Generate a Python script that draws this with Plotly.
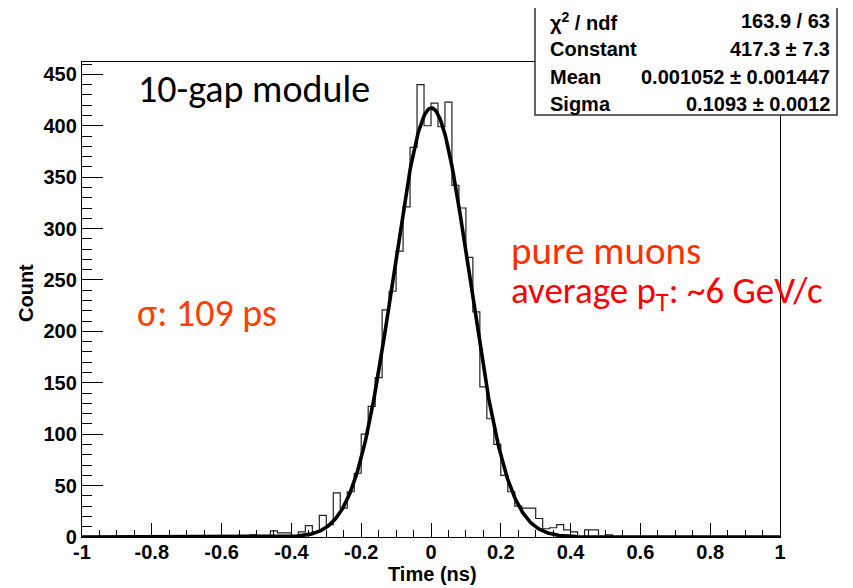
import numpy as np
import plotly.graph_objects as go

# ---------------- data ----------------
bin_low_edges = [-0.52, -0.50, -0.48, -0.46, -0.44, -0.42, -0.40, -0.38, -0.36, -0.34,
                 -0.32, -0.30, -0.28, -0.26, -0.24, -0.22, -0.20, -0.18, -0.16, -0.14,
                 -0.12, -0.10, -0.08, -0.06, -0.04, -0.02, 0.00, 0.02, 0.04, 0.06,
                 0.08, 0.10, 0.12, 0.14, 0.16, 0.18, 0.20, 0.22, 0.24, 0.26,
                 0.28, 0.30, 0.32, 0.34, 0.36, 0.38, 0.40, 0.42, 0.44, 0.46,
                 0.48, 0.50]
bin_counts = [2, 0, 0, 6, 4, 4, 1, 5, 11, 5,
              21, 12, 43, 28, 44, 62, 100, 127, 155, 221,
              239, 278, 321, 379, 440, 400, 422, 399, 423, 342,
              320, 272, 219, 146, 115, 90, 60, 44, 30, 28,
              28, 18, 8, 9, 12, 7, 5, 0, 7, 7,
              0, 2]
bin_width = 0.02

fit_constant = 417.3
fit_mean = 0.001052
fit_sigma = 0.1093

x_range = [-1, 1]
y_range = [0, 462]
x_tick_vals = [-1, -0.8, -0.6, -0.4, -0.2, 0, 0.2, 0.4, 0.6, 0.8, 1]
x_tick_labels = ["-1", "-0.8", "-0.6", "-0.4", "-0.2", "0", "0.2", "0.4", "0.6", "0.8", "1"]
y_tick_vals = [0, 50, 100, 150, 200, 250, 300, 350, 400, 450]
y_tick_labels = ["0", "50", "100", "150", "200", "250", "300", "350", "400", "450"]

stats_labels = ["χ<sup>2</sup> / ndf", "Constant", "Mean", "Sigma"]
stats_values = ["163.9 / 63", "417.3 ± 7.3", "0.001052 ± 0.001447", "0.1093 ± 0.0012"]

x_title = "Time (ns)"
y_title = "Count"
label_module = "10-gap module"
label_sigma = "σ: 109 ps"
label_muons = "pure muons"
label_pt = "average p<sub>T</sub>: ~6 GeV/c"

# ---------------- histogram outline ----------------
step_x = [x_range[0]] + bin_low_edges + [bin_low_edges[-1] + bin_width, x_range[1]]
step_y = [0] + bin_counts + [0, 0]

fit_x = np.linspace(x_range[0], x_range[1], 801)
fit_y = fit_constant * np.exp(-0.5 * ((fit_x - fit_mean) / fit_sigma) ** 2)

fig = go.Figure()
fig.add_trace(go.Scatter(x=step_x, y=step_y, mode="lines", line_shape="hv",
                         line=dict(color="#222222", width=1.2), hoverinfo="skip",
                         showlegend=False))
fig.add_trace(go.Scatter(x=fit_x, y=fit_y, mode="lines",
                         line=dict(color="black", width=3.6), showlegend=False))

tick_font = dict(family="Liberation Sans, Arial, sans-serif", size=20, color="black", weight="bold")

# the page body has an 8px margin, so the figure is sized to fill the window after it
OFF = 8
fig.update_layout(
    width=853 - OFF, height=588 - OFF,
    margin=dict(l=82 - OFF, r=73, t=62 - OFF, b=51),
    paper_bgcolor="white", plot_bgcolor="white",
    xaxis=dict(range=x_range, showline=True, linecolor="black", linewidth=1.3, mirror=True,
               ticks="inside", ticklen=14, tickwidth=1, tickcolor="black",
               tickmode="array", tickvals=x_tick_vals, ticktext=x_tick_labels,
               tickfont=tick_font, showgrid=False, zeroline=False, ticklabelstandoff=-3,
               minor=dict(ticks="inside", ticklen=7, tickwidth=1, tickcolor="black",
                          tick0=-1, dtick=0.05, showgrid=False)),
    yaxis=dict(range=y_range, showline=True, linecolor="black", linewidth=1.3, mirror=True,
               ticks="inside", ticklen=21, tickwidth=1, tickcolor="black",
               tickmode="array", tickvals=y_tick_vals, ticktext=y_tick_labels,
               tickfont=tick_font, showgrid=False, zeroline=False,
               minor=dict(ticks="inside", ticklen=10, tickwidth=1, tickcolor="black",
                          tick0=0, dtick=10, showgrid=False)),
)

# ---------------- pixel helpers (window pixels -> paper fractions) ----------------
L, R, T, B = 82, 780, 62, 537
def px(xp):
    return (xp - L) / (R - L)
def py(yp):
    return (B - yp) / (B - T)

ann = []
title_font = dict(family="Liberation Sans, Arial, sans-serif", size=20, color="black", weight="bold")
ann.append(dict(text=x_title, x=px(432), y=py(574), xref="paper", yref="paper",
                showarrow=False, xanchor="center", yanchor="middle", font=title_font))
ann.append(dict(text=y_title, x=px(26), y=py(293), xref="paper", yref="paper",
                showarrow=False, xanchor="center", yanchor="middle", textangle=-90,
                font=title_font))

ppt = "Carlito, Calibri, Lato, sans-serif"
ann.append(dict(text=label_module, x=px(136), y=py(89), xref="paper", yref="paper",
                showarrow=False, xanchor="left", yanchor="middle",
                font=dict(family=ppt, size=38, color="black")))
ann.append(dict(text=label_sigma, x=px(135), y=py(313), xref="paper", yref="paper",
                showarrow=False, xanchor="left", yanchor="middle",
                font=dict(family=ppt, size=38, color="#FF4000")))
ann.append(dict(text=label_muons, x=px(509), y=py(250), xref="paper", yref="paper",
                showarrow=False, xanchor="left", yanchor="middle",
                font=dict(family=ppt, size=39, color="#FF3000")))
ann.append(dict(text=label_pt, x=px(509), y=py(293), xref="paper", yref="paper",
                showarrow=False, xanchor="left", yanchor="middle",
                font=dict(family=ppt, size=37, color="#FF0000")))

# stats box
fig.add_shape(type="rect", xref="paper", yref="paper",
              x0=px(535), x1=px(837), y0=py(115), y1=py(4),
              fillcolor="white", line=dict(color="#333333", width=1.5), layer="above")
stats_font = dict(family="Liberation Sans, Arial, sans-serif", size=20, color="black", weight="bold")
row_y = [21, 49, 77, 104]
for lab, val, yy in zip(stats_labels, stats_values, row_y):
    ann.append(dict(text=lab, x=px(548), y=py(yy), xref="paper", yref="paper",
                    showarrow=False, xanchor="left", yanchor="middle", font=stats_font))
    ann.append(dict(text=val, x=px(832), y=py(yy), xref="paper", yref="paper",
                    showarrow=False, xanchor="right", yanchor="middle", font=stats_font))

fig.update_layout(annotations=ann)
fig.write_html("out.html")
